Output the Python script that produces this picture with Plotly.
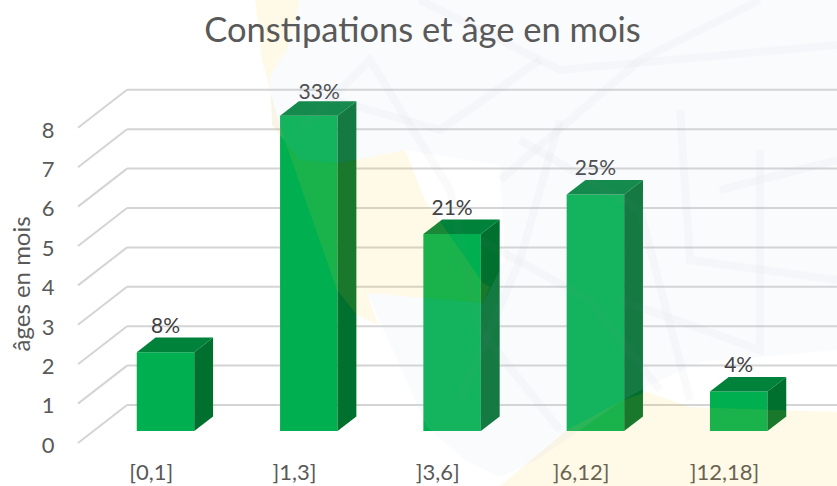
import plotly.graph_objects as go

# --- data ---
categories = ["[0,1]", "]1,3]", "]3,6]", "]6,12]", "]12,18]"]
values = [2, 8, 5, 6, 1]
labels = ["8%", "33%", "21%", "25%", "4%"]
y_ticks = [0, 1, 2, 3, 4, 5, 6, 7, 8]
title_text = "Constipations et âge en mois"
y_title = "âges en mois"
label_nudge_x = [0, 0.072, 0, 0, 0]     # the 33% label sits to the right of its bar
label_gap_px = [10, 7, 10, 10, 10]      # gap above the bar's top face

# --- style / pseudo-3D projection ---
W, H = 837, 486
L, R, T, B = 72, 0, 60, 35
PX_X = 143.3          # pixels per category
PX_Y = 39.4           # pixels per value unit
X0_PX = 151.2         # pixel of category 0 on the floor's front edge
Y0_PX = 443           # pixel of value 0 on the floor's front edge
DEPTH_X = 49 / PX_X   # floor depth as axis units
DEPTH_Y = 38 / PX_Y
BAR_W = 57.5 / PX_X
D_FRONT_X, D_FRONT, D_BACK = 0.292, 0.316, 0.70
FRONT, SIDE, TOP = "#00B050", "#00702F", "#00823A"
GRID = "#d4d4d4"
TXT = "#595959"


def px(x, y):
    """pixel -> paper coordinates, for the faint background picture"""
    return (x - L) / (W - L - R), 1 - (y - T) / (H - T - B)


def poly(points):
    parts = []
    for i, (x, y) in enumerate(points):
        a, b = px(x, y)
        parts.append(("M" if i == 0 else "L") + f"{a:.4f},{b:.4f}")
    return " ".join(parts) + " Z"


fig = go.Figure()

# front faces
xs = [i + D_FRONT_X * DEPTH_X for i in range(len(values))]
fig.add_trace(go.Bar(
    x=xs, y=values, base=[D_FRONT * DEPTH_Y] * len(values), width=BAR_W,
    marker=dict(color=FRONT, line=dict(width=0)), showlegend=False, hoverinfo="skip",
))

# side and top faces
dd = D_BACK - D_FRONT
for i, v in enumerate(values):
    xl = xs[i] - BAR_W / 2
    yb = D_FRONT * DEPTH_Y
    xr = xl + BAR_W
    yt = yb + v
    dx, dy = dd * DEPTH_X, dd * DEPTH_Y
    fig.add_trace(go.Scatter(
        x=[xr, xr + dx, xr + dx, xr, xr], y=[yb, yb + dy, yt + dy, yt, yb],
        mode="lines", fill="toself", fillcolor=SIDE, line=dict(width=0),
        showlegend=False, hoverinfo="skip"))
    fig.add_trace(go.Scatter(
        x=[xl, xr, xr + dx, xl + dx, xl], y=[yt, yt, yt + dy, yt + dy, yt],
        mode="lines", fill="toself", fillcolor=TOP, line=dict(width=0),
        showlegend=False, hoverinfo="skip"))

# data labels
fig.add_trace(go.Scatter(
    x=[x + n for x, n in zip(xs, label_nudge_x)],
    y=[D_BACK * DEPTH_Y + v + g / PX_Y for v, g in zip(values, label_gap_px)],
    mode="text", text=labels, textposition="middle center",
    textfont=dict(family="Lato", size=21, color="#404040"),
    showlegend=False, hoverinfo="skip"))

shapes = []
# grid: floor/side wall + back wall
x_left = -(X0_PX - 78) / PX_X
x_right = 5.2
for t in y_ticks:
    shapes.append(dict(type="line", xref="x", yref="y", layer="below",
                       x0=x_left, y0=t, x1=x_left + DEPTH_X, y1=t + DEPTH_Y,
                       line=dict(color=GRID, width=2)))
    shapes.append(dict(type="line", xref="x", yref="y", layer="below",
                       x0=x_left + DEPTH_X, y0=t + DEPTH_Y, x1=x_right, y1=t + DEPTH_Y,
                       line=dict(color=GRID, width=2)))

# faint watermark picture laid over the chart
blue = [(287, 50), (300, 0), (837, 0), (837, 350), (700, 362), (650, 385), (623, 400), (537, 460),
        (500, 477), (465, 460), (427, 427), (395, 355), (367, 293), (483, 303), (505, 260),
        (500, 165), (405, 150), (340, 163), (300, 160), (272, 125), (270, 75)]
yellow_top = [(255, 0), (300, 0), (287, 50), (270, 75), (272, 125), (300, 160), (340, 163), (405, 150),
              (425, 200), (453, 240), (483, 283), (490, 287), (483, 303), (367, 293), (378, 325),
              (357, 315), (337, 290), (280, 127), (262, 60)]
yellow_bot = [(837, 412), (690, 407), (647, 392), (623, 400), (567, 430), (500, 486), (837, 486)]
for pts, col, op in [(blue, "#c8dcf0", 0.1), (yellow_top, "#ffc320", 0.1), (yellow_bot, "#ffc320", 0.1)]:
    shapes.append(dict(type="path", xref="paper", yref="paper", layer="above",
                       path=poly(pts), fillcolor=col, opacity=op, line=dict(width=0)))
strokes = [
    [(300, 130), (370, 60), (450, 190), (480, 330), (560, 430)],
    [(420, 0), (560, 70), (837, 45)],
    [(500, 180), (640, 60), (760, 0)],
    [(520, 140), (640, 210), (690, 400)],
    [(680, 110), (690, 260), (837, 280)],
    [(480, 240), (590, 300), (660, 390)],
    [(720, 190), (837, 160)],
    [(760, 150), (760, 350), (620, 300)],
    [(560, 120), (520, 260), (460, 400)],
    [(300, 90), (440, 130), (540, 60)],
]
for pts in strokes:
    d = " ".join(("M" if i == 0 else "L") + "{:.4f},{:.4f}".format(*px(*p)) for i, p in enumerate(pts))
    shapes.append(dict(type="path", xref="paper", yref="paper", layer="above", path=d,
                       line=dict(color="#8f9499", width=8), opacity=0.035))

tx, ty = px(19.5, 284)
fig.update_layout(
    width=W, height=H, margin=dict(l=L, r=R, t=T, b=B, autoexpand=False),
    paper_bgcolor="white", plot_bgcolor="rgba(0,0,0,0)", showlegend=False, barmode="overlay",
    title=dict(text=title_text, x=422.5 / W, xanchor="center", xref="container", y=1 - 30 / H,
               yanchor="middle", yref="container",
               font=dict(family="Lato", size=34.5, color=TXT)),
    shapes=shapes,
    annotations=[dict(text=y_title, xref="paper", yref="paper", x=tx, y=ty, textangle=-90,
                      xanchor="center", yanchor="middle",
                      showarrow=False, font=dict(family="Lato", size=24, color=TXT))],
    xaxis=dict(range=[(L - X0_PX) / PX_X, (W - X0_PX) / PX_X], tickmode="array",
               tickvals=list(range(len(categories))), ticktext=categories,
               showgrid=False, zeroline=False, showline=False, ticks="outside", ticklen=2,
               tickcolor="rgba(0,0,0,0)", tickfont=dict(family="Lato", size=22, color=TXT)),
    yaxis=dict(range=[(Y0_PX - (H - B)) / PX_Y, (Y0_PX - T) / PX_Y], tickmode="array",
               tickvals=y_ticks, ticktext=[str(t) for t in y_ticks], ticklabelshift=2,
               showgrid=False, zeroline=False, showline=False, ticks="outside", ticklen=12,
               tickcolor="rgba(0,0,0,0)", tickfont=dict(family="Lato", size=22, color=TXT)),
)
fig.write_html("out.html", config=dict(displayModeBar=False),
               post_script="document.body.style.margin='0';document.documentElement.style.overflow='hidden';")
